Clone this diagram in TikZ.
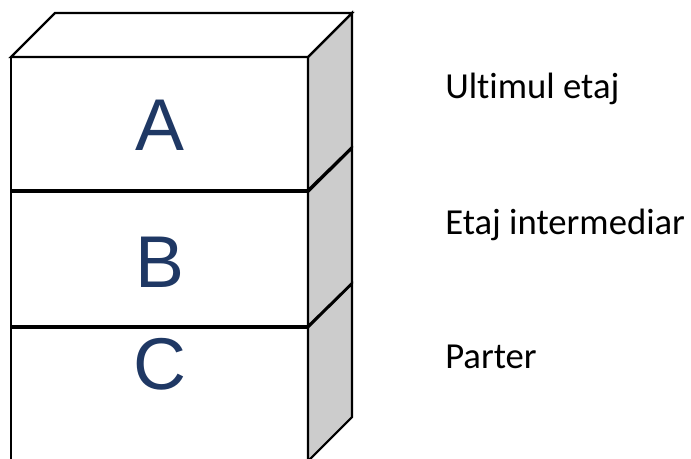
\documentclass[tikz,border=0pt]{standalone}
\usepackage{fontspec}
\setmainfont[Ligatures=NoCommon]{Carlito}
\newfontfamily\arialfont{Liberation Sans}
\definecolor{letterblue}{HTML}{1F3864}
\definecolor{sidegray}{HTML}{CCCCCC}
\begin{document}
\begin{tikzpicture}[x=0.75pt,y=-0.75pt,
  edge/.style={draw=black,line width=1.6pt,line join=miter},
  front/.style={edge,fill=white},
  side/.style={edge,fill=sidegray},
  letter/.style={font=\arialfont\fontsize{55}{60}\selectfont,text=letterblue,inner sep=0pt},
  floorlabel/.style={font=\fontsize{27.5}{32}\selectfont,anchor=base west,inner sep=0pt}]
\useasboundingbox (0,0) rectangle (691,459);
\clip (0,0) rectangle (691,459);
% box C (parter)
\draw[front] (11,327.5) rectangle (308,470);
\draw[side] (308,327.5) -- (352,284) -- (352,417) -- (308,461) -- cycle;
% box B (intermediar)
\draw[front] (11,192) rectangle (308,326);
\draw[side] (308,192) -- (352,148.5) -- (352,283) -- (308,326) -- cycle;
% box A (ultimul etaj)
\draw[front] (11,57) rectangle (308,190);
\draw[side] (308,57) -- (352,13) -- (352,147) -- (308,190) -- cycle;
\draw[front] (11,57) -- (55,13) -- (352,13) -- (308,57) -- cycle;
% letters
\node[letter] (la) at (160,125) {A};
\node[letter] (lb) at (160,262) {B};
\node[letter] (lc) at (160,364) {C};
% labels
\node[floorlabel] (t1) at (445,99) {Ultimul etaj};
\node[floorlabel] (t2) at (445,235) {Etaj intermediar};
\node[floorlabel] (t3) at (445,368) {Parter};
\end{tikzpicture}
\end{document}
